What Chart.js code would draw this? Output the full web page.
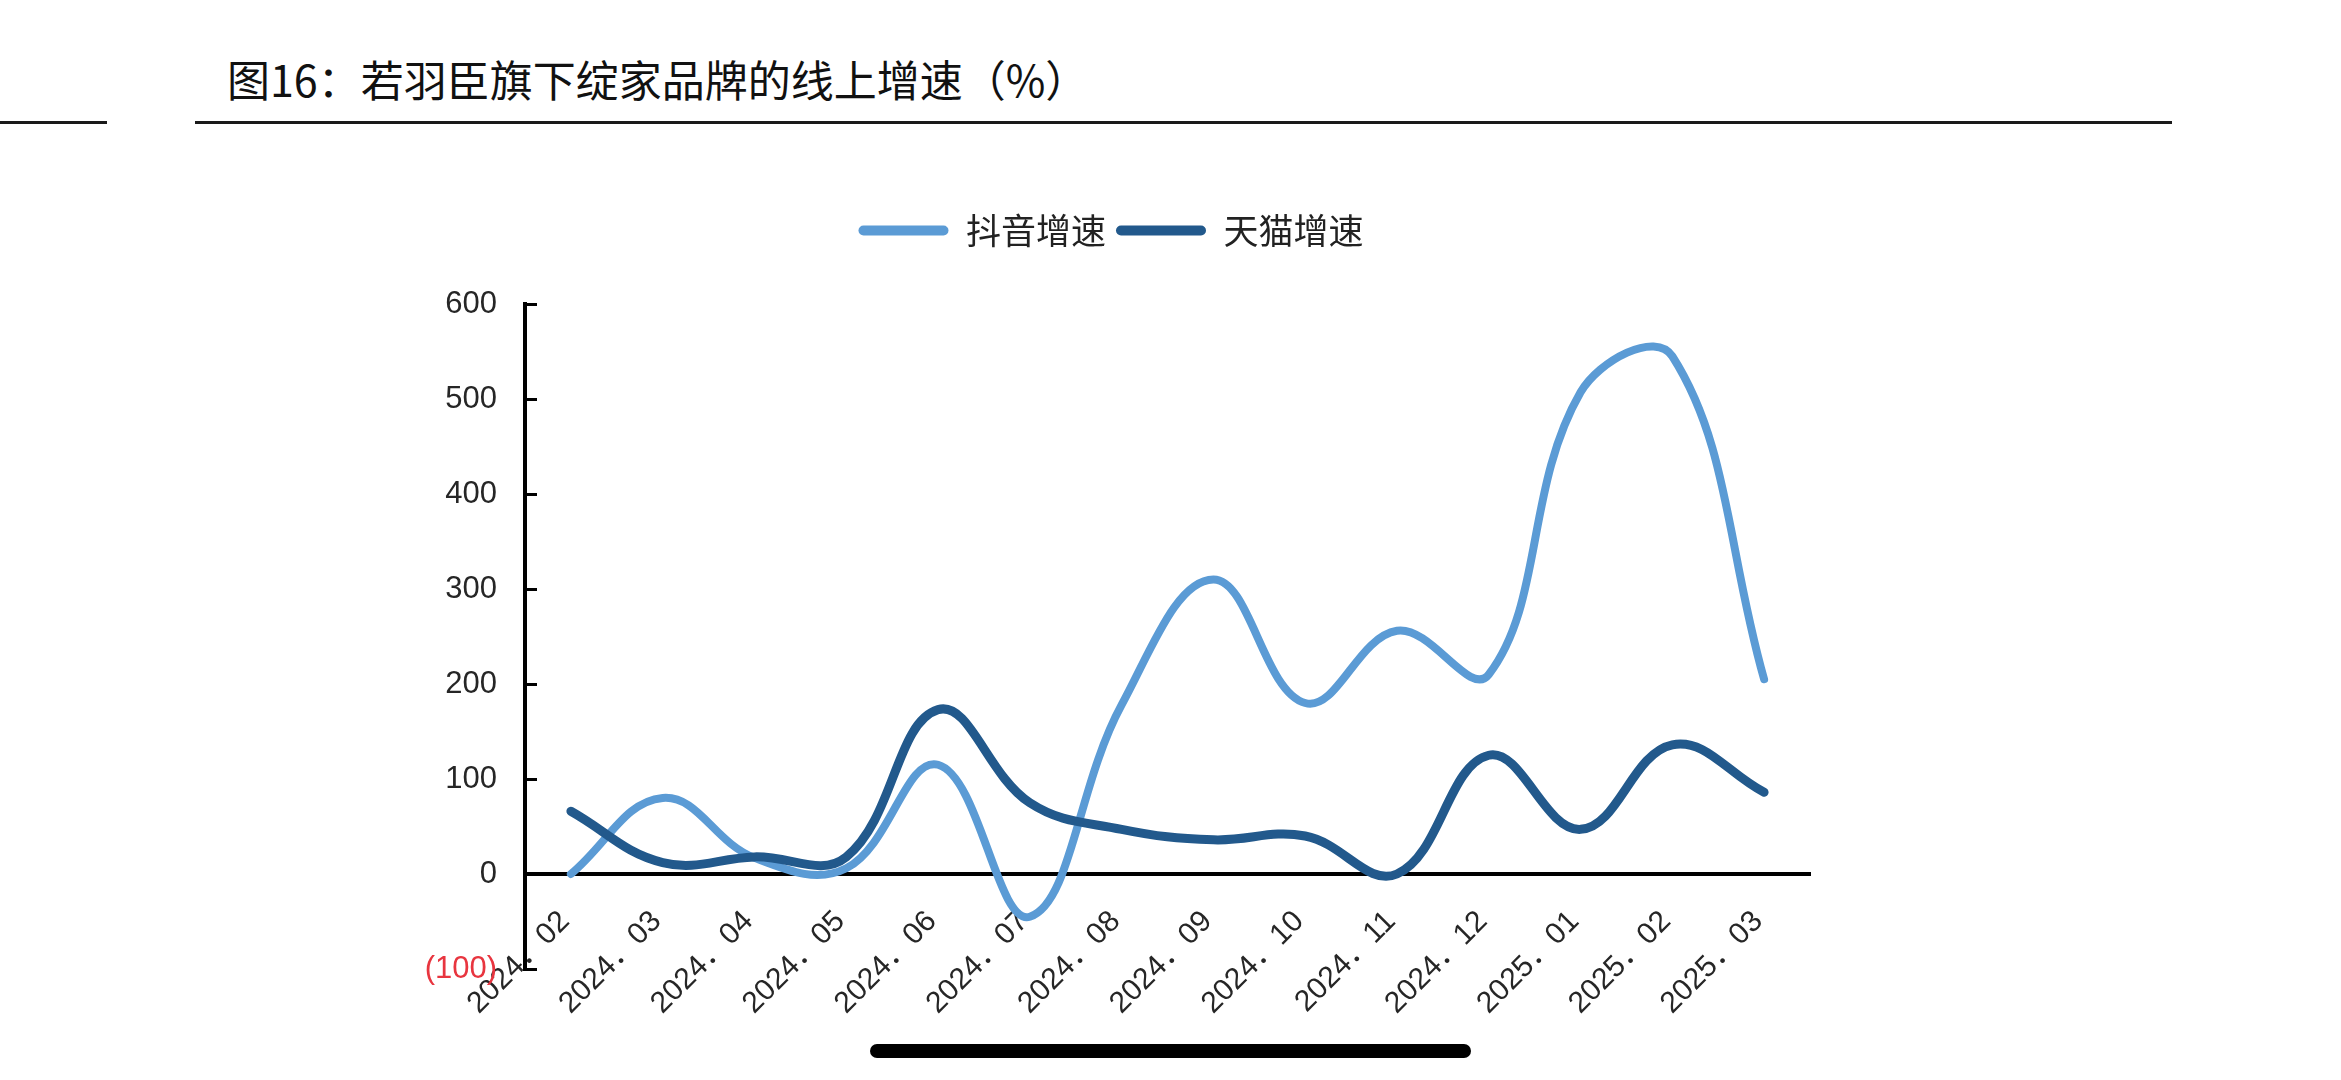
<!DOCTYPE html>
<html>
<head>
<meta charset="utf-8">
<script src="https://cdn.jsdelivr.net/npm/chart.js@4.4.1/dist/chart.umd.min.js"></script>
<style>
  html, body { margin: 0; padding: 0; background: #fff; }
  body { width: 2341px; height: 1080px; position: relative; overflow: hidden; font-family: "Noto Sans CJK SC", sans-serif; }
  #title { position: absolute; left: 227px; top: 51px; font-size: 43px; line-height: 54px; color: #111; white-space: nowrap; }
  .rule { position: absolute; top: 121px; height: 3px; background: #1a1a1a; }
  #wrap { position: absolute; left: 0; top: 0; width: 2341px; height: 1080px; }
  #bar { position: absolute; left: 870px; top: 1044px; width: 601px; height: 14px; border-radius: 7px; background: #000; }
</style>
</head>
<body>
<div id="title">图16：若羽臣旗下绽家品牌的线上增速（%）</div>
<div class="rule" style="left:0;width:107px"></div>
<div class="rule" style="left:195px;width:1977px"></div>
<div id="wrap"><canvas id="growthChart"></canvas></div>
<div id="bar"></div>
<script>
// 月份
const months = ['2024．02', '2024．03', '2024．04', '2024．05', '2024．06', '2024．07', '2024．08',
                '2024．09', '2024．10', '2024．11', '2024．12', '2025．01', '2025．02', '2025．03'];
// 抖音增速 (%)
const douyinGrowth = [0, 80, 17, 6, 115, -45, 178, 310, 180, 256, 210, 507, 545, 205];
// 天猫增速 (%)
const tmallGrowth = [66, 12, 18, 18, 173, 75, 47, 36, 40, 0, 125, 47, 136, 86];
// y 轴范围
const yMin = -100, yMax = 600, yStep = 100;

const tickFont = { family: '"Liberation Sans", "Noto Sans CJK SC"', size: 31 };

// push the plot down below the legend
const legendGap = {
    id: 'legendGap',
    beforeInit(chart) {
        const fit = chart.legend.fit;
        chart.legend.fit = function () {
            fit.bind(chart.legend)();
            this.height += 46;
        };
    }
};

const ctx = document.getElementById('growthChart').getContext('2d');
const growthChart = new Chart(ctx, {
    type: 'line',
    data: {
        labels: months,
        datasets: [{
            label: '抖音增速',
            data: douyinGrowth,
            borderColor: '#5B9BD5',
            backgroundColor: '#5B9BD5',
            borderWidth: 8,
            order: 1
        }, {
            label: '天猫增速',
            data: tmallGrowth,
            borderColor: '#22598C',
            backgroundColor: '#22598C',
            borderWidth: 9,
            order: 0
        }]
    },
    options: {
        responsive: true,
        maintainAspectRatio: false,
        animation: false,
        elements: {
            point: { radius: 0 },
            line: { tension: 0.4, borderCapStyle: 'round', borderJoinStyle: 'round' }
        },
        layout: { padding: { left: 412, right: 531, top: 203, bottom: 111 } },
        plugins: {
            tooltip: { enabled: false },
            legend: {
                position: 'top',
                labels: {
                    color: '#222',
                    font: { family: 'Noto Sans CJK SC', size: 35 },
                    boxWidth: 90,
                    boxHeight: 10,
                    padding: 10,
                    sort: (a, b) => a.datasetIndex - b.datasetIndex,
                    generateLabels: chart => Chart.defaults.plugins.legend.labels.generateLabels(chart)
                        .map(item => ({ ...item, lineWidth: 0, borderRadius: 5 }))
                }
            }
        },
        scales: {
            x: {
                position: { y: 0 },
                offset: true,
                grid: { drawOnChartArea: false, drawTicks: false },
                border: { color: '#000', width: 4 },
                ticks: {
                    autoSkip: false,
                    minRotation: 45,
                    maxRotation: 45,
                    padding: 30,
                    labelOffset: -6,
                    color: '#262626',
                    font: { family: '"Liberation Sans", "Noto Sans CJK SC"', size: 30 }
                }
            },
            y: {
                min: yMin,
                max: yMax,
                afterFit(scale) { scale.width = 113; },
                grid: { drawOnChartArea: false, drawTicks: true, tickLength: -12, color: '#000', lineWidth: 3 },
                border: { color: '#000', width: 4 },
                ticks: {
                    stepSize: yStep,
                    padding: 40,
                    font: tickFont,
                    color: c => c.tick.value < 0 ? '#E8353F' : '#262626',
                    callback: v => v < 0 ? '(' + (-v) + ')' : v
                }
            }
        }
    },
    plugins: [legendGap]
});
</script>
</body>
</html>
